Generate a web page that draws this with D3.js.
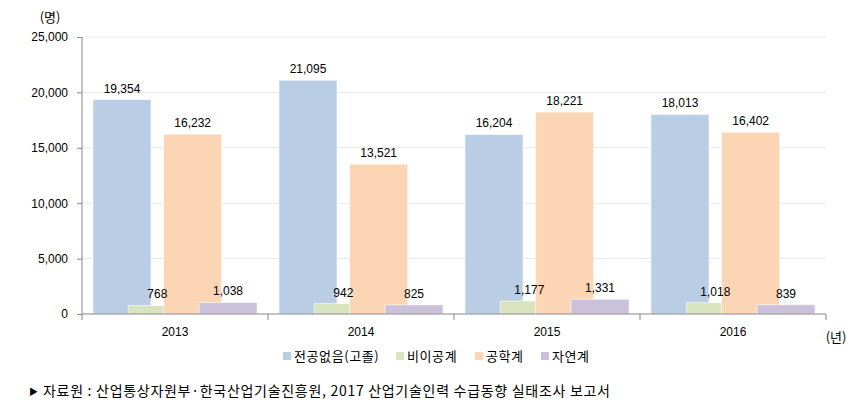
<!DOCTYPE html>
<html>
<head>
<meta charset="utf-8">
<script src="https://cdn.jsdelivr.net/npm/d3@7"></script>
<style>
  body { margin: 0; background: #fff; }
  svg { font-family: "Noto Sans CJK KR", "Malgun Gothic", sans-serif; }
  .axis text { font-family: "Liberation Sans", Arial, sans-serif; font-size: 12px; fill: #000; }
  .axis path, .axis line { stroke: #888; }
  .val { font-family: "Liberation Sans", Arial, sans-serif; font-size: 12px; fill: #000; text-anchor: middle; }
</style>
</head>
<body>
<svg id="chart"></svg>
<script>
// data
var years = ["2013", "2014", "2015", "2016"];
var seriesNames = ["전공없음(고졸)", "비이공계", "공학계", "자연계"];
var noMajor = [19354, 21095, 16204, 18013];
var nonEng = [768, 942, 1177, 1018];
var engineering = [16232, 13521, 18221, 16402];
var natural = [1038, 825, 1331, 839];
var yTicks = [0, 5000, 10000, 15000, 20000, 25000];
var colors = ["#b9cde5", "#d7e4bd", "#fcd5b5", "#ccc1da"];

var allSeries = [noMajor, nonEng, engineering, natural];

var width = 860, height = 405;
var plotL = 82, plotR = 826, plotT = 37, plotB = 314;

var svg = d3.select("#chart").attr("width", width).attr("height", height);

var xScale = d3.scaleBand().domain(years).range([plotL, plotR]);
var yScale = d3.scaleLinear().domain([0, 25000]).range([plotB, plotT]);

// bars overlap each other, like the office chart
var bw = xScale.bandwidth();
var barW = bw * 0.312;
var step = bw * 0.19;
var groupW = step * 3 + barW;

// grid
svg.append("g").selectAll("line")
    .data(yTicks.slice(1))
    .enter().append("line")
    .attr("x1", plotL).attr("x2", plotR)
    .attr("y1", function(d){ return yScale(d); })
    .attr("y2", function(d){ return yScale(d); })
    .attr("stroke", "#e8e8e8");

allSeries.forEach(function(vals, i){
    var g = svg.append("g");
    g.selectAll("rect")
        .data(vals)
        .enter().append("rect")
        .attr("x", function(d, j){ return xScale(years[j]) + (bw - groupW) / 2 + i * step; })
        .attr("y", function(d){ return yScale(d); })
        .attr("width", barW)
        .attr("height", function(d){ return plotB - yScale(d); })
        .attr("fill", colors[i])
        .attr("stroke", "#fff")
        .attr("stroke-opacity", 0.6)
        .attr("stroke-width", 1);
});

allSeries.forEach(function(vals, i){
    svg.append("g").selectAll("text")
        .data(vals)
        .enter().append("text")
        .attr("class", "val")
        .attr("x", function(d, j){ return xScale(years[j]) + (bw - groupW) / 2 + i * step + barW / 2; })
        .attr("y", function(d){ return yScale(d) - 7; })
        .text(function(d){ return d3.format(",")(d); });
});

var yAxis = d3.axisLeft(yScale)
    .tickValues(yTicks)
    .tickFormat(d3.format(","))
    .tickSize(5)
    .tickPadding(9);
svg.append("g")
    .attr("class", "axis")
    .attr("transform", "translate(" + plotL + ",0)")
    .call(yAxis)
    .call(function(g){ g.select(".domain").attr("d", "M0," + plotT + "V" + plotB); });

var xAxis = d3.axisBottom(xScale).tickSize(0).tickPadding(13);
var xg = svg.append("g")
    .attr("class", "axis")
    .attr("transform", "translate(0," + plotB + ")")
    .call(xAxis);
xg.select(".domain").attr("d", "M" + plotL + ",0H" + plotR);
xg.selectAll(".sep")
    .data([plotL].concat(years.map(function(y){ return xScale(y) + bw; })))
    .enter().append("line")
    .attr("x1", function(d){ return d; }).attr("x2", function(d){ return d; })
    .attr("y1", 0).attr("y2", 6)
    .attr("stroke", "#888");

svg.append("text").attr("x", 50).attr("y", 22)
    .attr("text-anchor", "middle").style("font-size", "13px").text("(명)");
svg.append("text").attr("x", 836).attr("y", 342)
    .attr("text-anchor", "middle").style("font-size", "13px").text("(년)");

// legend
var legX = [283, 396, 475, 541];
var leg = svg.append("g").selectAll("g")
    .data(seriesNames)
    .enter().append("g")
    .attr("transform", function(d, i){ return "translate(" + legX[i] + ",352)"; });
leg.append("rect").attr("width", 8).attr("height", 8)
    .attr("fill", function(d, i){ return colors[i]; });
leg.append("text").attr("x", 11).attr("y", 9)
    .style("font-size", "13px")
    .style("letter-spacing", "0.6px")
    .text(function(d){ return d; });

// source
svg.append("text").attr("x", 29).attr("y", 395)
    .style("font-size", "9px").text("▶");
svg.append("text").attr("x", 43).attr("y", 396)
    .style("font-size", "14px")
    .attr("textLength", 567)
    .text("자료원 : 산업통상자원부·한국산업기술진흥원, 2017 산업기술인력 수급동향 실태조사 보고서");
</script>
</body>
</html>
